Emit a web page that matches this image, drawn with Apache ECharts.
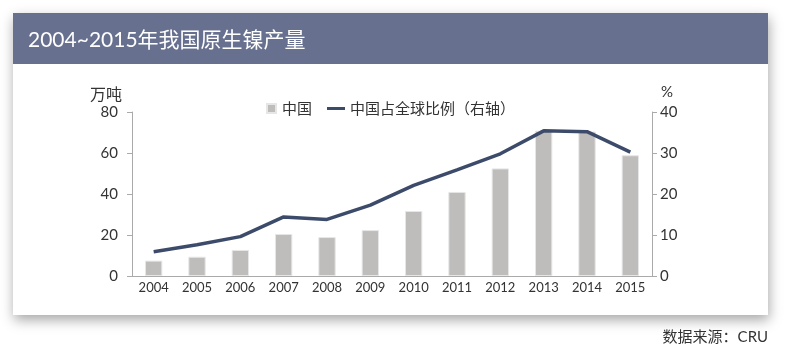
<!DOCTYPE html>
<html><head><meta charset="utf-8">
<script src="https://cdn.jsdelivr.net/npm/echarts@6/dist/echarts.min.js"></script>
<style>html,body{margin:0;padding:0;background:#fff}#c{width:785px;height:351px}</style>
</head><body><div id="c"></div>
<script>
var categories = ['2004','2005','2006','2007','2008','2009','2010','2011','2012','2013','2014','2015'];
var chinaOutput = [7.5, 9.4, 12.7, 20.5, 19.0, 22.4, 31.7, 41.0, 52.5, 70.9, 70.5, 58.9];
var chinaShare = [5.9, 7.6, 9.6, 14.4, 13.8, 17.3, 22.1, 25.9, 29.8, 35.4, 35.2, 30.2];
var leftTicks = [0, 20, 40, 60, 80];
var rightTicks = [0, 10, 20, 30, 40];

var numFont = 'Lato, "Noto Sans CJK SC", sans-serif';
var cjkFont = '"Noto Sans CJK SC", sans-serif';
var chart = echarts.init(document.getElementById('c'));
chart.setOption({
  animation: false,
  graphic: [
    {type:'rect', shape:{x:13,y:13,width:755,height:302}, style:{fill:'#fff', shadowBlur:12, shadowColor:'rgba(0,0,0,0.35)', shadowOffsetY:5, shadowOffsetX:1}, z:-10},
    {type:'rect', shape:{x:13,y:13,width:755,height:51}, style:{fill:'#67718f'}, z:-9},
    {type:'text', x:28, y:40, style:{text:'2004~2015年我国原生镍产量', fill:'#fff', font:'21px ' + numFont, textVerticalAlign:'middle'}},
    {type:'text', x:768, y:337, style:{text:'数据来源：CRU', fill:'#333', font:'15px ' + numFont, textAlign:'right', textVerticalAlign:'middle'}}
  ],
  legend: [
    {top: 96, left: 261, itemWidth: 9, itemHeight: 9, itemGap: 6,
     textStyle: {fontSize: 15, color: '#333', fontFamily: cjkFont, padding:[0,0,0,1]},
     data: [{name:'中国', icon:'rect'}]},
    {top: 96, left: 322, itemWidth: 18, itemHeight: 3,
     textStyle: {fontSize: 15, color: '#333', fontFamily: cjkFont},
     data: [{name:'中国占全球比例（右轴）', icon:'rect'}]}
  ],
  grid: {left: 132, right: 133, top: 112, bottom: 75, containLabel: false},
  xAxis: {
    type: 'category', data: categories,
    axisLine: {lineStyle: {color: '#aaa'}},
    axisTick: {interval: 1, length: 5, lineStyle: {color: '#aaa'}},
    axisLabel: {interval: 0, fontSize: 13, color: '#333', fontFamily: numFont, margin: 5}
  },
  yAxis: [
    {type:'value', min:0, max:80, interval:20, name:'万吨', nameGap:10,
     nameTextStyle:{fontSize:16, color:'#333', fontFamily:cjkFont, align:'right', padding:[0,10,0,0]},
     axisLine:{show:true, lineStyle:{color:'#aaa'}}, axisTick:{show:true, length:5, lineStyle:{color:'#aaa'}},
     splitLine:{show:false}, axisLabel:{fontSize:15, color:'#333', fontFamily:numFont, margin:14}},
    {type:'value', min:0, max:40, interval:10, name:'%', nameGap:12,
     nameTextStyle:{fontSize:15, color:'#333', fontFamily:numFont, align:'left', padding:[0,0,0,9]},
     axisLine:{show:true, lineStyle:{color:'#aaa'}}, axisTick:{show:true, length:5, lineStyle:{color:'#aaa'}},
     splitLine:{show:false}, axisLabel:{fontSize:15, color:'#333', fontFamily:numFont, margin:8}}
  ],
  series: [
    {name:'中国', type:'bar', data: chinaOutput, barWidth:'40%', yAxisIndex:0,
     itemStyle:{color:'#bebdbb', borderColor:'#e6e6e6', borderWidth:1}},
    {name:'中国占全球比例（右轴）', type:'line', data: chinaShare, yAxisIndex:1,
     symbol:'none', lineStyle:{color:'#3d4b6b', width:3.5}, itemStyle:{color:'#3d4b6b'}}
  ]
});
</script></body></html>
